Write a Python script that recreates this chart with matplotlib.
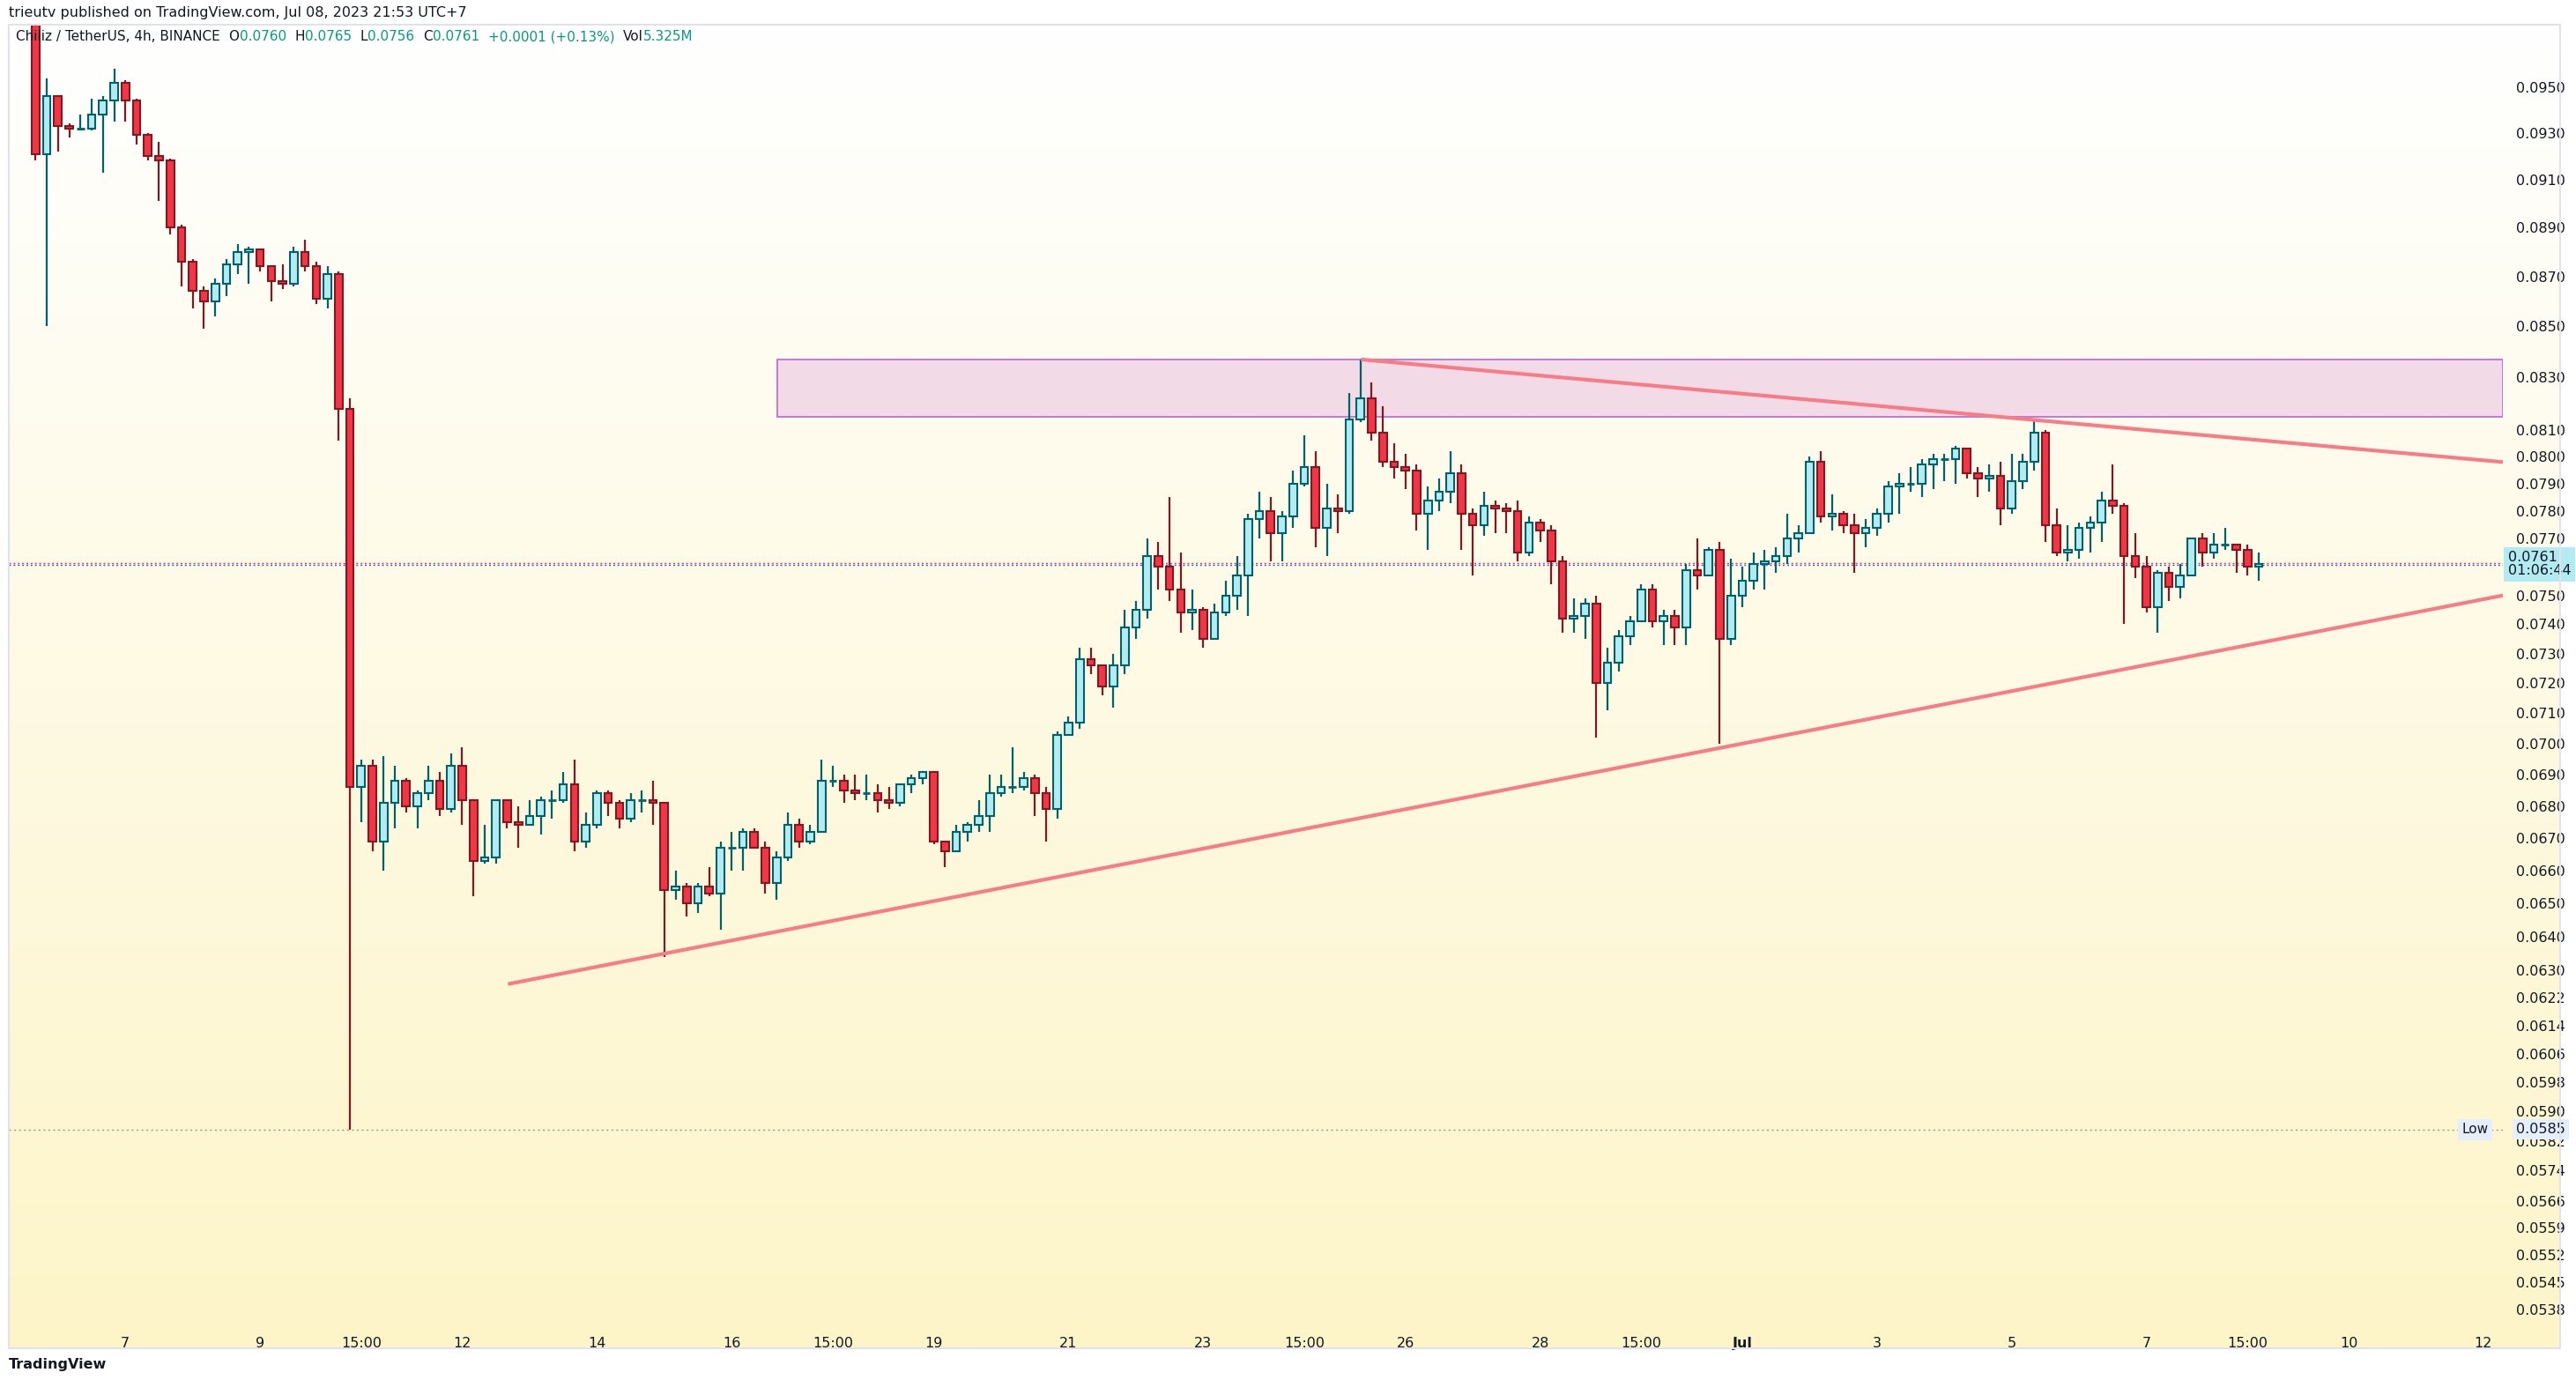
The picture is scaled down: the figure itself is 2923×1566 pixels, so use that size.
import numpy as np
import matplotlib.pyplot as plt
from matplotlib.patches import Rectangle
from matplotlib.ticker import FixedLocator, FixedFormatter, NullLocator

# 4h candles, CHZ/USDT (first candle ~Jun 5 16:00)
first_open = 0.0985
closes = [
    0.0921, 0.0946, 0.0933, 0.0932, 0.0932, 0.0938, 0.0944, 0.0952, 0.0944, 0.0929,
    0.0920, 0.0918, 0.0890, 0.0876, 0.0864, 0.0860, 0.0867, 0.0875, 0.0880, 0.0881,
    0.0874, 0.0868, 0.0867, 0.0880, 0.0874, 0.0861, 0.0871, 0.0818, 0.0686, 0.0693,
    0.0669, 0.0681, 0.0688, 0.0680, 0.0684, 0.0688, 0.0679, 0.0693, 0.0682, 0.0663,
    0.0664, 0.0682, 0.0675, 0.0674, 0.0677, 0.0682, 0.0682, 0.0687, 0.0669, 0.0674,
    0.0684, 0.0681, 0.0676, 0.0682, 0.0682, 0.0681, 0.0654, 0.0655, 0.0650, 0.0655,
    0.0653, 0.0667, 0.0667, 0.0672, 0.0667, 0.0656, 0.0664, 0.0674, 0.0669, 0.0672,
    0.0688, 0.0688, 0.0685, 0.0684, 0.0684, 0.0682, 0.0681, 0.0687, 0.0689, 0.0691,
    0.0669, 0.0666, 0.0672, 0.0674, 0.0677, 0.0684, 0.0686, 0.0686, 0.0689, 0.0684,
    0.0679, 0.0703, 0.0707, 0.0728, 0.0726, 0.0719, 0.0726, 0.0739, 0.0745, 0.0764,
    0.0760, 0.0752, 0.0744, 0.0745, 0.0735, 0.0744, 0.0750, 0.0757, 0.0777, 0.0780,
    0.0772, 0.0778, 0.0790, 0.0796, 0.0774, 0.0781, 0.0780, 0.0814, 0.0822, 0.0809,
    0.0798, 0.0796, 0.0795, 0.0779, 0.0784, 0.0787, 0.0794, 0.0779, 0.0775, 0.0782,
    0.0781, 0.0780, 0.0765, 0.0776, 0.0773, 0.0762, 0.0742, 0.0743, 0.0747, 0.0720,
    0.0727, 0.0736, 0.0741, 0.0752, 0.0741, 0.0743, 0.0739, 0.0759, 0.0757, 0.0766,
    0.0735, 0.0750, 0.0755, 0.0761, 0.0762, 0.0764, 0.0770, 0.0772, 0.0798, 0.0778,
    0.0779, 0.0775, 0.0772, 0.0774, 0.0779, 0.0789, 0.0790, 0.0790, 0.0797, 0.0799,
    0.0799, 0.0803, 0.0794, 0.0792, 0.0793, 0.0781, 0.0791, 0.0798, 0.0809, 0.0775,
    0.0765, 0.0766, 0.0774, 0.0776, 0.0784, 0.0782, 0.0764, 0.0760, 0.0746, 0.0758,
    0.0753, 0.0757, 0.0770, 0.0765, 0.0768, 0.0768, 0.0766, 0.0760, 0.0761,
]
highs = [
    0.0990, 0.0954, 0.0946, 0.0934, 0.0938, 0.0945, 0.0946, 0.0958, 0.0953, 0.0945,
    0.0930, 0.0926, 0.0919, 0.0891, 0.0877, 0.0866, 0.0869, 0.0877, 0.0883, 0.0882,
    0.0881, 0.0874, 0.0875, 0.0882, 0.0885, 0.0876, 0.0874, 0.0872, 0.0822, 0.0695,
    0.0695, 0.0696, 0.0693, 0.0689, 0.0685, 0.0693, 0.0691, 0.0697, 0.0699, 0.0682,
    0.0674, 0.0682, 0.0682, 0.0680, 0.0682, 0.0683, 0.0685, 0.0691, 0.0695, 0.0678,
    0.0685, 0.0685, 0.0682, 0.0684, 0.0685, 0.0688, 0.0681, 0.0660, 0.0656, 0.0656,
    0.0661, 0.0669, 0.0672, 0.0673, 0.0673, 0.0669, 0.0666, 0.0678, 0.0676, 0.0674,
    0.0695, 0.0693, 0.0690, 0.0690, 0.0690, 0.0687, 0.0686, 0.0687, 0.0690, 0.0691,
    0.0691, 0.0669, 0.0674, 0.0675, 0.0682, 0.0690, 0.0690, 0.0699, 0.0691, 0.0690,
    0.0686, 0.0704, 0.0709, 0.0732, 0.0732, 0.0726, 0.0730, 0.0745, 0.0748, 0.0770,
    0.0769, 0.0785, 0.0765, 0.0752, 0.0746, 0.0747, 0.0755, 0.0764, 0.0779, 0.0787,
    0.0785, 0.0780, 0.0795, 0.0808, 0.0802, 0.0790, 0.0786, 0.0824, 0.0837, 0.0828,
    0.0819, 0.0805, 0.0801, 0.0797, 0.0789, 0.0792, 0.0802, 0.0797, 0.0781, 0.0787,
    0.0784, 0.0783, 0.0784, 0.0778, 0.0777, 0.0775, 0.0764, 0.0749, 0.0749, 0.0750,
    0.0732, 0.0738, 0.0743, 0.0754, 0.0754, 0.0745, 0.0745, 0.0761, 0.0770, 0.0767,
    0.0769, 0.0763, 0.0760, 0.0765, 0.0766, 0.0767, 0.0779, 0.0775, 0.0800, 0.0802,
    0.0786, 0.0780, 0.0779, 0.0777, 0.0781, 0.0791, 0.0794, 0.0796, 0.0799, 0.0801,
    0.0801, 0.0804, 0.0803, 0.0796, 0.0797, 0.0798, 0.0801, 0.0801, 0.0814, 0.0810,
    0.0781, 0.0775, 0.0776, 0.0778, 0.0787, 0.0797, 0.0783, 0.0772, 0.0764, 0.0759,
    0.0760, 0.0761, 0.0770, 0.0772, 0.0772, 0.0774, 0.0768, 0.0768, 0.0765,
]
lows = [
    0.0918, 0.0850, 0.0922, 0.0928, 0.0931, 0.0931, 0.0913, 0.0935, 0.0935, 0.0925,
    0.0918, 0.0901, 0.0887, 0.0866, 0.0857, 0.0849, 0.0854, 0.0862, 0.0871, 0.0867,
    0.0872, 0.0860, 0.0865, 0.0866, 0.0872, 0.0859, 0.0857, 0.0806, 0.0585, 0.0675,
    0.0666, 0.0660, 0.0673, 0.0678, 0.0673, 0.0682, 0.0677, 0.0678, 0.0674, 0.0652,
    0.0662, 0.0662, 0.0673, 0.0667, 0.0674, 0.0671, 0.0676, 0.0681, 0.0666, 0.0667,
    0.0673, 0.0677, 0.0673, 0.0675, 0.0678, 0.0674, 0.0634, 0.0651, 0.0646, 0.0647,
    0.0652, 0.0642, 0.0660, 0.0660, 0.0667, 0.0653, 0.0651, 0.0663, 0.0667, 0.0668,
    0.0672, 0.0686, 0.0681, 0.0682, 0.0682, 0.0678, 0.0679, 0.0680, 0.0684, 0.0687,
    0.0668, 0.0661, 0.0666, 0.0669, 0.0672, 0.0672, 0.0683, 0.0684, 0.0685, 0.0677,
    0.0669, 0.0676, 0.0703, 0.0705, 0.0723, 0.0716, 0.0712, 0.0723, 0.0735, 0.0742,
    0.0752, 0.0748, 0.0737, 0.0738, 0.0732, 0.0735, 0.0743, 0.0745, 0.0743, 0.0770,
    0.0762, 0.0762, 0.0774, 0.0789, 0.0767, 0.0764, 0.0772, 0.0779, 0.0813, 0.0806,
    0.0796, 0.0792, 0.0788, 0.0773, 0.0766, 0.0780, 0.0783, 0.0766, 0.0757, 0.0771,
    0.0772, 0.0772, 0.0762, 0.0764, 0.0769, 0.0754, 0.0737, 0.0737, 0.0735, 0.0702,
    0.0711, 0.0724, 0.0733, 0.0742, 0.0739, 0.0733, 0.0733, 0.0733, 0.0752, 0.0758,
    0.0700, 0.0733, 0.0746, 0.0752, 0.0752, 0.0758, 0.0761, 0.0765, 0.0772, 0.0776,
    0.0773, 0.0772, 0.0758, 0.0767, 0.0771, 0.0776, 0.0779, 0.0787, 0.0785, 0.0788,
    0.0791, 0.0790, 0.0792, 0.0785, 0.0787, 0.0775, 0.0779, 0.0788, 0.0795, 0.0769,
    0.0764, 0.0762, 0.0763, 0.0765, 0.0769, 0.0779, 0.0740, 0.0756, 0.0744, 0.0737,
    0.0748, 0.0749, 0.0757, 0.0760, 0.0763, 0.0766, 0.0758, 0.0757, 0.0755,
]
opens = [first_open] + closes[:-1]

# time axis in days, Jun 7 00:00 = 0
t_first = -4 / 3
candle_days = 1 / 6

x_tick_pos = [0, 2, 3.5, 5, 7, 9, 10.5, 12, 14, 16, 17.5, 19, 21, 22.5, 24, 26, 28, 30, 31.5, 33, 35]
x_tick_lab = ["7", "9", "15:00", "12", "14", "16", "15:00", "19", "21", "23", "15:00",
              "26", "28", "15:00", "Jul", "3", "5", "7", "15:00", "10", "12"]
y_ticks = [0.0950, 0.0930, 0.0910, 0.0890, 0.0870, 0.0850, 0.0830, 0.0810, 0.0800, 0.0790,
           0.0780, 0.0770, 0.0750, 0.0740, 0.0730, 0.0720, 0.0710, 0.0700, 0.0690, 0.0680,
           0.0670, 0.0660, 0.0650, 0.0640, 0.0630, 0.0622, 0.0614, 0.0606, 0.0598, 0.0590,
           0.0582, 0.0574, 0.0566, 0.0559, 0.0552, 0.0545, 0.0538]

# drawings
zone_x = [9.68, 35.29]
zone_y = [0.0815, 0.0837]
down_line = ([18.34, 35.29], [0.0837, 0.0798])
up_line = ([5.68, 35.29], [0.0626, 0.0750])
last_price = 0.0761
low_price = 0.0585

UP_FILL, UP_EDGE = "#b2ebf2", "#00636b"
DN_FILL, DN_EDGE = "#f23645", "#801922"

W, H = 2923, 1566
fig = plt.figure(figsize=(W / 100, H / 100), dpi=100, facecolor="white")

def fx(px):
    return px / W

def fy(py):
    return 1 - py / H

# gradient background behind plot + price scale
bg = fig.add_axes([fx(10), fy(1530), fx(2905 - 10), fy(28) - fy(1530)])
grad = np.linspace(0, 1, 256)[:, None]
top_c = np.array([1.0, 1.0, 1.0])
bot_c = np.array([253, 245, 200]) / 255
img = (1 - grad)[..., None] * top_c + grad[..., None] * bot_c
img = np.repeat(img, 2, axis=1)
bg.imshow(img, aspect="auto", extent=[0, 1, 0, 1])
bg.set_axis_off()
fig.patches.append(Rectangle((fx(10), fy(1530)), fx(2905 - 10), fy(28) - fy(1530),
                             transform=fig.transFigure, fill=False, edgecolor="#e0e3eb", lw=1.5))

ax = fig.add_axes([fx(10), fy(1500), fx(2840 - 10), fy(28) - fy(1500)])
ax.patch.set_alpha(0)
ax.set_yscale("log")
ax.set_xlim(-1.73, 35.29)
ax.set_ylim(0.0535, 0.0978)

n = len(closes)
t = [t_first + i * candle_days for i in range(n)]
bw = candle_days * 0.68
for ti, o, h, l, c in zip(t, opens, highs, lows, closes):
    up = c >= o
    fc, ec = (UP_FILL, UP_EDGE) if up else (DN_FILL, DN_EDGE)
    lo_b, hi_b = min(o, c), max(o, c)
    ax.vlines(ti, min(l, lo_b), max(h, hi_b), color=ec, lw=1.6, zorder=3)
    if hi_b / lo_b < 1.0006:
        ax.hlines(c, ti - bw / 2, ti + bw / 2, color=ec, lw=2, zorder=4)
    else:
        ax.add_patch(Rectangle((ti - bw / 2, lo_b), bw, hi_b - lo_b, facecolor=fc,
                               edgecolor=ec, lw=1.5, zorder=4))

ax.add_patch(Rectangle((zone_x[0], zone_y[0]), zone_x[1] - zone_x[0], zone_y[1] - zone_y[0],
                       facecolor="#f2dbe7", edgecolor="#c06fd2", lw=1.3, zorder=1))
ax.plot(*down_line, color="#f77c86", lw=3, zorder=5, solid_capstyle="butt")
ax.plot(*up_line, color="#f77c86", lw=3, zorder=5, solid_capstyle="butt")

ax.axhline(last_price * 1.0005, color="#f23645", lw=1, ls=(0, (1.5, 2)), zorder=2)
ax.axhline(last_price * 0.9995, color="#2962ff", lw=1, ls=(0, (1.5, 2)), zorder=2)
ax.axhline(low_price, color="#9598a1", lw=1, ls=(0, (1.5, 2.5)), zorder=2)

for s in ax.spines.values():
    s.set_visible(False)
ax.yaxis.tick_right()
ax.yaxis.set_major_locator(FixedLocator(y_ticks))
ax.yaxis.set_major_formatter(FixedFormatter([f"{v:.4f}" for v in y_ticks]))
ax.yaxis.set_minor_locator(NullLocator())
ax.xaxis.set_major_locator(FixedLocator(x_tick_pos))
ax.xaxis.set_major_formatter(FixedFormatter(x_tick_lab))
ax.tick_params(axis="y", length=0, pad=11, labelsize=11.5, labelcolor="#131722")
ax.tick_params(axis="x", length=0, pad=12, labelsize=11.5, labelcolor="#131722")
for lab, txt in zip(ax.get_xticklabels(), x_tick_lab):
    if txt == "Jul":
        lab.set_fontweight("bold")

# price scale tags
ax.annotate("0.0761\n01:06:44", xy=(1.0, last_price), xycoords=("axes fraction", "data"),
            xytext=(4, 0), textcoords="offset points", va="center", ha="left",
            fontsize=11.5, color="#131722", linespacing=0.95, zorder=10,
            bbox=dict(boxstyle="square,pad=0.3", fc="#b2ebf2", ec="none"))
ax.annotate("0.0585", xy=(1.0, low_price), xycoords=("axes fraction", "data"),
            xytext=(11, 0), textcoords="offset points", va="center", ha="left",
            fontsize=11.5, color="#131722", zorder=10,
            bbox=dict(boxstyle="square,pad=0.25", fc="#e3effd", ec="none"))
ax.annotate("Low", xy=(1.0, low_price), xycoords=("axes fraction", "data"),
            xytext=(-12, 0), textcoords="offset points", va="center", ha="right",
            fontsize=11, color="#131722", zorder=10,
            bbox=dict(boxstyle="square,pad=0.3", fc="#e3effd", ec="none"))

# header texts
fig.text(fx(10), fy(15), "trieutv published on TradingView.com, Jul 08, 2023 21:53 UTC+7",
         fontsize=11.5, color="#131722", va="center", ha="left")
teal = "#089981"
parts = [("Chiliz / TetherUS, 4h, BINANCE  ", "#131722"), ("O", "#131722"), ("0.0760  ", teal),
         ("H", "#131722"), ("0.0765  ", teal), ("L", "#131722"), ("0.0756  ", teal),
         ("C", "#131722"), ("0.0761  ", teal), ("+0.0001 (+0.13%)  ", teal),
         ("Vol", "#131722"), ("5.325M", teal)]
renderer = fig.canvas.get_renderer()
x0 = fx(18)
for txt, col in parts:
    tt = fig.text(x0, fy(42), txt, fontsize=11, color=col, va="center", ha="left")
    bb = tt.get_window_extent(renderer=renderer)
    x0 += bb.width / W
fig.text(fx(10), fy(1549), "TradingView", fontsize=11.5, color="#131722",
         fontweight="bold", va="center", ha="left")

fig.savefig("out.png", dpi=100, facecolor="white")
